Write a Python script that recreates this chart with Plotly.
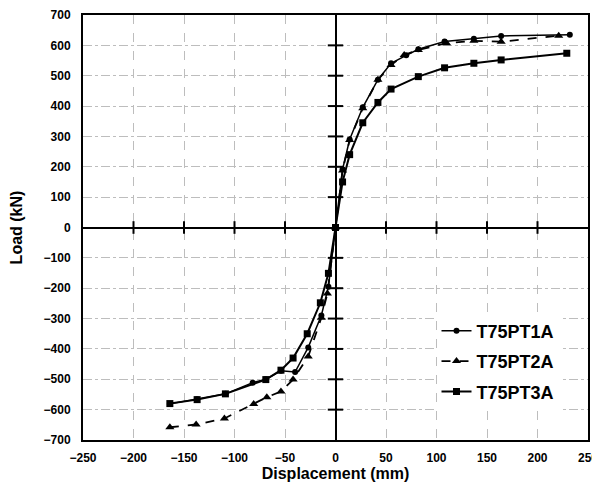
import plotly.graph_objects as go

# ---- data ----
t1_disp = [-164, -137, -109, -82, -69, -54, -40, -27, -14, -7, 0,
           7, 14, 27, 42, 55, 70, 82, 108, 137, 164, 232]
t1_load = [-581, -566, -548, -511, -500, -472, -476, -395, -290, -195, 0,
           192, 290, 396, 487, 541, 567, 587, 613, 622, 631, 635]

t2_disp = [-164, -138, -110, -81, -68, -54, -42, -27, -14, -8, 0,
           7, 14, 27, 42, 55, 68, 82, 110, 137, 164, 221]
t2_load = [-658, -649, -629, -581, -559, -540, -501, -425, -297, -217, 0,
           188, 288, 393, 487, 535, 568, 585, 607, 615, 612, 632]

t3_disp = [-164, -137, -109, -69, -54, -42, -28, -15, -7, 0,
           7, 14, 27, 42, 55, 82, 108, 137, 164, 229]
t3_load = [-580, -567, -548, -501, -470, -430, -350, -248, -151, 0,
           150, 240, 345, 412, 456, 497, 526, 541, 552, 574]

x_ticks = [-250, -200, -150, -100, -50, 0, 50, 100, 150, 200, 250]
y_ticks = [-700, -600, -500, -400, -300, -200, -100, 0, 100, 200, 300, 400, 500, 600, 700]

FONT = "Arial, Liberation Sans, sans-serif"

fig = go.Figure()

# crossing tick marks on the zero axes
inner_x = [v for v in x_ticks if v not in (x_ticks[0], x_ticks[-1], 0)]
inner_y = [v for v in y_ticks if v not in (y_ticks[0], y_ticks[-1], 0)]
fig.add_trace(go.Scatter(x=inner_x, y=[0] * len(inner_x), mode="markers",
                         marker=dict(symbol="line-ns", size=9, line=dict(width=2, color="black")),
                         showlegend=False, hoverinfo="skip"))
fig.add_trace(go.Scatter(x=[0] * len(inner_y), y=inner_y, mode="markers",
                         marker=dict(symbol="line-ew", size=11, line=dict(width=2, color="black")),
                         showlegend=False, hoverinfo="skip"))

fig.add_trace(go.Scatter(x=t1_disp, y=t1_load, name="T75PT1A", mode="lines+markers",
                         line=dict(color="black", width=1.5),
                         marker=dict(symbol="circle", size=6, color="black"),
                         legendgroup="a"))
fig.add_trace(go.Scatter(x=t2_disp, y=t2_load, name="T75PT2A", mode="lines+markers",
                         line=dict(color="black", width=1.8, dash="dash"),
                         marker=dict(symbol="triangle-up", size=8, color="black"),
                         legendgroup="b"))
fig.add_trace(go.Scatter(x=t3_disp, y=t3_load, name="T75PT3A", mode="lines+markers",
                         line=dict(color="black", width=2),
                         marker=dict(symbol="square", size=7, color="black"),
                         legendgroup="c"))

# the page body adds an 8px margin, so the figure is 8px smaller and margins are shifted
fig.update_layout(
    width=592, height=480,
    margin=dict(l=75, r=12, t=7, b=48),
    paper_bgcolor="white", plot_bgcolor="white",
    font=dict(family=FONT, color="black"),
    showlegend=True,
    legend=dict(x=0.7, y=0.3, xanchor="left", yanchor="top",
                bgcolor="white", borderwidth=0,
                font=dict(family=FONT, size=18, weight="bold", color="black"),
                tracegroupgap=4, traceorder="grouped"),
    xaxis=dict(range=[-250, 250], tickvals=x_ticks, ticks="", automargin=False,
               showgrid=True, gridcolor="#bdbdbd", gridwidth=1, griddash="dash",
               zeroline=True, zerolinecolor="black", zerolinewidth=2,
               showline=True, mirror=True, linecolor="black", linewidth=2,
               tickfont=dict(family=FONT, size=12, weight="bold"),
               ticklabelstandoff=6,
               title=dict(text="Displacement (mm)", standoff=3,
                          font=dict(family=FONT, size=16, weight="bold"))),
    yaxis=dict(range=[-700, 700], tickvals=y_ticks, ticks="", automargin=False,
               showgrid=True, gridcolor="#bdbdbd", gridwidth=1, griddash="dashdot",
               zeroline=True, zerolinecolor="black", zerolinewidth=2,
               showline=True, mirror=True, linecolor="black", linewidth=2,
               tickfont=dict(family=FONT, size=12, weight="bold"),
               ticklabelstandoff=8,
               title=dict(text="Load (kN)", standoff=20,
                          font=dict(family=FONT, size=16, weight="bold"))),
)

fig.write_html("out.html")
